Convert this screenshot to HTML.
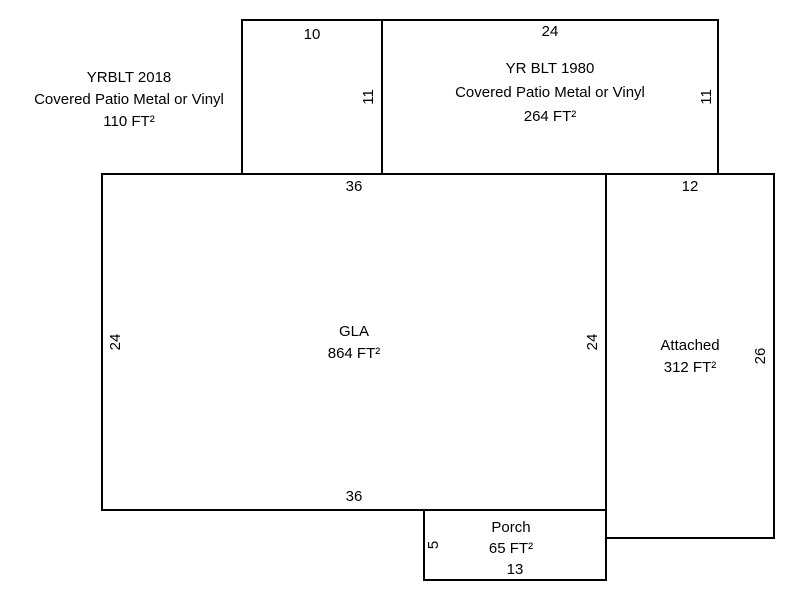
<!DOCTYPE html>
<html><head><style>body{margin:0;background:#fff}svg{display:block}</style></head><body>
<svg width="800" height="600" xmlns="http://www.w3.org/2000/svg" font-family="Liberation Sans, Arial, sans-serif" font-size="15" fill="#000">
<g fill="none" stroke="#000" stroke-width="2">
<rect x="242" y="20" width="140" height="154"/>
<rect x="382" y="20" width="336" height="154"/>
<rect x="102" y="174" width="504" height="336"/>
<rect x="606" y="174" width="168" height="364"/>
<rect x="424" y="510" width="182" height="70"/>
</g>
<g text-anchor="middle">
<text x="129" y="82">YRBLT 2018</text>
<text x="129" y="104">Covered Patio Metal or Vinyl</text>
<text x="129" y="126">110 FT²</text>
<text x="312" y="39">10</text>
<text x="550" y="36">24</text>
<text x="550" y="73">YR BLT 1980</text>
<text x="550" y="97">Covered Patio Metal or Vinyl</text>
<text x="550" y="121">264 FT²</text>
<text x="354" y="191">36</text>
<text x="690" y="191">12</text>
<text x="354" y="336">GLA</text>
<text x="354" y="358">864 FT²</text>
<text x="690" y="350">Attached</text>
<text x="690" y="372">312 FT²</text>
<text x="354" y="501">36</text>
<text x="511" y="532">Porch</text>
<text x="511" y="553">65 FT²</text>
<text x="515" y="574">13</text>
<text transform="translate(373,97) rotate(-90)">11</text>
<text transform="translate(711,97) rotate(-90)">11</text>
<text transform="translate(120,342) rotate(-90)">24</text>
<text transform="translate(597,342) rotate(-90)">24</text>
<text transform="translate(765,356) rotate(-90)">26</text>
<text transform="translate(438,545) rotate(-90)">5</text>
</g>
</svg>
</body></html>
